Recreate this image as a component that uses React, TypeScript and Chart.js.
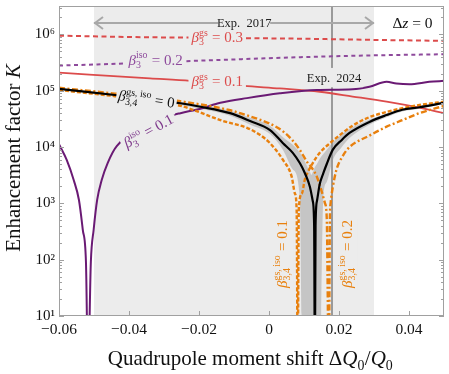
import React, { useEffect, useRef } from 'react';
import { Chart, registerables } from 'chart.js';

Chart.register(...registerables);

// ---------- axes ----------
const X_MIN = -0.06;
const X_MAX = 0.05;
const Y_MIN = 10;
const Y_MAX = 3.2e6;
const X_TICKS = [-0.06, -0.04, -0.02, 0, 0.02, 0.04];
const Y_TICKS = [1e1, 1e2, 1e3, 1e4, 1e5, 1e6];
const Y_TICK_LABELS = ['10\u00B9', '10\u00B2', '10\u00B3', '10\u2074', '10\u2075', '10\u2076'];
const EXP2017_RANGE = [-0.05, 0.03];
const EXP2024_X = 0.018;

// ---------- series ----------
const red03X = [-0.06, -0.034, -0.0225, -0.0066, 0.009, 0.03, 0.05];
const red03Y = [9.5e5, 8.9e5, 8.8e5, 8.6e5, 8.4e5, 8.0e5, 7.7e5];

const purple02X = [-0.06, -0.041, -0.024, -0.01, 0.009, 0.03, 0.05];
const purple02Y = [2.8e5, 3.05e5, 3.35e5, 3.6e5, 3.95e5, 4.25e5, 4.45e5];

const red01X = [-0.06, -0.034, -0.0225, -0.0072, 0.0031, 0.0145, 0.0239, 0.0336, 0.043, 0.05];
const red01Y = [2.1e5, 1.66e5, 1.5e5, 1.22e5, 1.1e5, 9.6e4, 7.9e4, 6.4e4, 5.0e4, 4.0e4];

const purple01X = [-0.06, -0.0578, -0.0558, -0.0543, -0.0532, -0.0523, -0.0517, -0.0509, -0.0501, -0.0491, -0.0478,
  -0.0461, -0.0435, -0.0273, -0.0253, -0.0196, -0.0139, -0.0063, 0.0031, 0.0137, 0.0239, 0.0287, 0.0336, 0.0364,
  0.0401, 0.0458, 0.05];
const purple01Y = [1.12e4, 5.9e3, 2.6e3, 1.15e3, 3.4e2, 91, 1, 91, 3.4e2, 1.15e3, 2.6e3,
  5.2e3, 1.04e4, 3.7e4, 4.0e4, 4.8e4, 6.1e4, 7.4e4, 9.0e4, 1.03e5, 1.06e5, 1.18e5, 1.44e5, 1.35e5,
  1.31e5, 1.44e5, 1.5e5];

const blackX = [-0.06, -0.044, -0.0253, -0.0196, -0.0111, -0.0054, 0.0003, 0.004, 0.0068, 0.0088, 0.0102, 0.0117,
  0.0125, 0.0129, 0.0131, 0.0133, 0.0137, 0.0145, 0.0155, 0.0165, 0.0182, 0.0208, 0.023, 0.0287, 0.0336, 0.0381, 0.043, 0.05];
const blackY = [1.08e5, 8.4e4, 6.0e4, 5.2e4, 4.0e4, 2.9e4, 2.0e4, 1.17e4, 7.9e3, 5.2e3, 3.5e3, 1.96e3,
  1.1e3, 4.0e2, 1, 4.0e2, 1.1e3, 2.2e3, 3.4e3, 5.0e3, 8.9e3, 1.34e4, 1.78e4, 2.8e4, 3.7e4, 4.6e4, 5.1e4, 6.1e4];

const bandX = [-0.06, -0.044, -0.0253, -0.0196, -0.0111, -0.0054, 0.0003, 0.004, 0.0068, 0.0088, 0.0097, 0.0102,
  0.0117, 0.0121, 0.0125, 0.0131, 0.0137, 0.0145, 0.0155, 0.0165, 0.0182, 0.0208, 0.023, 0.0287, 0.0336, 0.0381, 0.043, 0.05];
const bandHiY = [1.12e5, 8.8e4, 6.4e4, 5.6e4, 4.4e4, 3.3e4, 2.4e4, 1.5e4, 1.1e4, 8.0e3, 6.5e3, 5.6e3,
  3.6e3, 3.2e3, 3.6e3, 4.4e3, 5.0e3, 6.2e3, 7.5e3, 9.0e3, 1.2e4, 1.7e4, 2.1e4, 3.1e4, 4.0e4, 4.9e4, 5.5e4, 6.4e4];
const bandLoY = [1.04e5, 8.0e4, 5.6e4, 4.8e4, 3.6e4, 2.5e4, 1.7e4, 8.9e3, 4.0e3, 1.3e3, 1, 1,
  1, 1, 1, 1, 1, 1, 1.2e3, 2.4e3, 5.8e3, 1.0e4, 1.45e4, 2.5e4, 3.4e4, 4.3e4, 4.8e4, 5.8e4];

const orange01X = [-0.06, -0.044, -0.0253, -0.0131, -0.0063, -0.0026, 0.0003, 0.004, 0.0065, 0.0074, 0.0079, 0.0082,
  0.0085, 0.0094, 0.0102, 0.0111, 0.0125, 0.0145, 0.0174, 0.0202, 0.0239, 0.0287, 0.0336, 0.0381, 0.043, 0.05];
const orange01Y = [1.03e5, 8.0e4, 5.4e4, 2.9e4, 2.2e4, 1.65e4, 1.17e4, 5.9e3, 2.95e3, 1.5e3, 7.6e2, 1,
  7.6e2, 1.5e3, 2.6e3, 3.6e3, 5.2e3, 7.9e3, 1.17e4, 1.63e4, 2.4e4, 3.4e4, 4.2e4, 4.9e4, 5.6e4, 6.4e4];

const orange02X = [-0.06, -0.044, -0.0253, -0.0111, -0.0054, 0.0003, 0.004, 0.0068, 0.0088, 0.0111, 0.0122, 0.0137,
  0.0151, 0.016, 0.0165, 0.0171, 0.0174, 0.0176, 0.0182, 0.0193, 0.0211, 0.023, 0.0287, 0.0336, 0.0381, 0.043, 0.05];
const orange02Y = [1.13e5, 8.9e4, 6.5e4, 4.5e4, 3.5e4, 2.6e4, 1.9e4, 1.3e4, 8.9e3, 5.2e3, 4.3e3, 2.95e3,
  1.6e3, 1.0e3, 5.5e2, 1, 5.5e2, 1.0e3, 1.9e3, 4.0e3, 7.0e3, 1.0e4, 1.6e4, 2.3e4, 3.0e4, 4.0e4, 5.4e4];

// ---------- styles ----------
const FAM = '"Liberation Serif", "DejaVu Serif", serif';
const SHADE = '#ececec';
const RED = '#dc4b4b';
const PURPLE_DARK = '#6a1a74';
const PURPLE_LIGHT = '#8e4a9c';
const ORANGE = '#e8800e';
const FRAME = '#a0a0a0';

type Run = { t?: string; it?: boolean; sup?: string; sub?: string };

function drawRich(ctx: CanvasRenderingContext2D, cx: number, cy: number, runs: Run[], size: number,
  color: string, angle = 0, bg: string | null = null, pad = 3) {
  const small = size * 0.66;
  const base = (it?: boolean) => `${it ? 'italic ' : ''}${size}px ${FAM}`;
  const sm = `${small}px ${FAM}`;
  const ws: number[] = [];
  let w = 0;
  for (const r of runs) {
    let ww: number;
    if (r.t !== undefined) {
      ctx.font = base(r.it);
      ww = ctx.measureText(r.t).width;
    } else {
      ctx.font = sm;
      ww = Math.max(ctx.measureText(r.sup || '').width, ctx.measureText(r.sub || '').width) + 0.5;
    }
    ws.push(ww);
    w += ww;
  }
  ctx.save();
  ctx.translate(cx, cy);
  ctx.rotate(angle);
  if (bg) {
    ctx.fillStyle = bg;
    ctx.fillRect(-w / 2 - pad, -size * 0.8, w + 2 * pad, size * 1.55);
  }
  ctx.fillStyle = color;
  ctx.textBaseline = 'alphabetic';
  ctx.textAlign = 'left';
  const by = size * 0.32;
  let x = -w / 2;
  runs.forEach((r, i) => {
    if (r.t !== undefined) {
      ctx.font = base(r.it);
      ctx.fillText(r.t, x, by);
    } else {
      ctx.font = sm;
      if (r.sup) ctx.fillText(r.sup, x, by - size * 0.42);
      if (r.sub) ctx.fillText(r.sub, x, by + size * 0.24);
    }
    x += ws[i];
  });
  ctx.restore();
}

const annotPlugin = {
  id: 'annot',
  beforeDatasetsDraw(chart: any) {
    const { ctx, chartArea: a, scales } = chart;
    const xs = scales.x;
    ctx.save();
    const x1 = xs.getPixelForValue(EXP2017_RANGE[0]);
    const x2 = xs.getPixelForValue(EXP2017_RANGE[1]);
    ctx.fillStyle = SHADE;
    ctx.fillRect(x1, a.top, x2 - x1, a.bottom - a.top);
    const xl = xs.getPixelForValue(EXP2024_X);
    ctx.strokeStyle = '#9a9a9a';
    ctx.lineWidth = 2;
    ctx.beginPath();
    ctx.moveTo(xl, a.top);
    ctx.lineTo(xl, a.bottom);
    ctx.stroke();
    ctx.restore();
  },
  afterDatasetsDraw(chart: any) {
    const { ctx, chartArea: a, scales } = chart;
    const xs = scales.x;
    const ys = scales.y;
    const P = (x: number, y: number) => [xs.getPixelForValue(x), ys.getPixelForValue(y)];
    ctx.save();
    ctx.beginPath();
    ctx.rect(a.left, a.top, a.right - a.left, a.bottom - a.top);
    ctx.clip();

    let p = P(-0.0148, 9.0e5);
    drawRich(ctx, p[0], p[1], [{ t: '\u03B2', it: true }, { sup: 'gs', sub: '3' }, { t: ' = 0.3' }], 15, RED, 0, SHADE);
    p = P(-0.0148, 1.49e5);
    drawRich(ctx, p[0], p[1], [{ t: '\u03B2', it: true }, { sup: 'gs', sub: '3' }, { t: ' = 0.1' }], 15, RED, 0, SHADE);
    p = P(-0.0324, 3.52e5);
    drawRich(ctx, p[0], p[1], [{ t: '\u03B2', it: true }, { sup: 'iso', sub: '3' }, { t: ' = 0.2' }], 15, PURPLE_LIGHT, 0, SHADE);
    p = P(-0.0344, 1.93e4);
    drawRich(ctx, p[0], p[1], [{ t: '\u03B2', it: true }, { sup: 'iso', sub: '3' }, { t: ' = 0.1' }], 15, '#7f3a8c', -0.5, SHADE);
    p = P(-0.035, 7.1e4);
    drawRich(ctx, p[0], p[1], [{ t: '\u03B2', it: true }, { sup: 'gs, iso', sub: '3,4' }, { t: ' = 0' }], 15, '#111', 0.14, SHADE, 2);
    p = P(0.0037, 126);
    drawRich(ctx, p[0], p[1], [{ t: '\u03B2', it: true }, { sup: 'gs, iso', sub: '3,4' }, { t: ' = 0.1' }], 15, ORANGE, -Math.PI / 2, SHADE, 2);
    p = P(0.0222, 126);
    drawRich(ctx, p[0], p[1], [{ t: '\u03B2', it: true }, { sup: 'gs, iso', sub: '3,4' }, { t: ' = 0.2' }], 15, ORANGE, -Math.PI / 2, SHADE, 2);

    // Exp. 2024 label
    p = P(EXP2024_X, 1.69e5);
    drawRich(ctx, p[0] + 2, p[1], [{ t: 'Exp.  2024' }], 12.5, '#222', 0, SHADE, 2);

    // Exp. 2017 arrow
    const x1 = xs.getPixelForValue(EXP2017_RANGE[0]);
    const x2 = xs.getPixelForValue(EXP2017_RANGE[1]);
    const ay = ys.getPixelForValue(1.6e6);
    const tc = xs.getPixelForValue(-0.0071);
    ctx.strokeStyle = '#a8a8a8';
    ctx.lineWidth = 2;
    ctx.beginPath();
    ctx.moveTo(x1, ay); ctx.lineTo(tc - 26, ay);
    ctx.moveTo(tc + 26, ay); ctx.lineTo(x2, ay);
    ctx.moveTo(x1 + 9, ay - 6); ctx.lineTo(x1 + 1, ay); ctx.lineTo(x1 + 9, ay + 6);
    ctx.moveTo(x2 - 9, ay - 6); ctx.lineTo(x2 - 1, ay); ctx.lineTo(x2 - 9, ay + 6);
    ctx.stroke();
    drawRich(ctx, tc, ay, [{ t: 'Exp.  2017' }], 12.5, '#222');

    p = P(0.041, 1.6e6);
    drawRich(ctx, p[0], p[1], [{ t: '\u0394' }, { t: 'z', it: true }, { t: ' = 0' }], 15.5, '#111');
    ctx.restore();

    // frame + ticks
    ctx.save();
    ctx.strokeStyle = FRAME;
    ctx.lineWidth = 1;
    ctx.strokeRect(a.left + 0.5, a.top + 0.5, a.right - a.left - 1, a.bottom - a.top - 1);
    ctx.beginPath();
    for (const v of X_TICKS) {
      const px = Math.round(xs.getPixelForValue(v)) + 0.5;
      ctx.moveTo(px, a.bottom); ctx.lineTo(px, a.bottom - 5);
    }
    for (const d of Y_TICKS) {
      for (let m = 1; m <= 9; m++) {
        const v = d * m;
        if (v > Y_MAX || v < Y_MIN) continue;
        const py = Math.round(ys.getPixelForValue(v)) + 0.5;
        const len = m === 1 ? 5 : 3;
        ctx.moveTo(a.left, py); ctx.lineTo(a.left + len, py);
        ctx.moveTo(a.right, py); ctx.lineTo(a.right - len, py);
      }
    }
    ctx.stroke();
    ctx.restore();

    // axis titles
    drawRich(ctx, (a.left + a.right) / 2 - 1, 358,
      [{ t: 'Quadrupole moment shift \u0394' }, { t: 'Q', it: true }, { sub: '0' }, { t: '/' }, { t: 'Q', it: true }, { sub: '0' }],
      21, '#111');
    drawRich(ctx, 13, 158, [{ t: 'Enhancement factor ' }, { t: 'K', it: true }], 21, '#111', -Math.PI / 2);
  },
};

function line(xsArr: number[], ysArr: number[], color: string, width: number, dash: number[], order: number) {
  return {
    data: xsArr.map((x, i) => ({ x, y: ysArr[i] })),
    borderColor: color,
    borderWidth: width,
    borderDash: dash,
    fill: false,
    pointRadius: 0,
    cubicInterpolationMode: 'monotone' as const,
    clip: 0,
    order,
  };
}

const zeroPad = (s: any) => {
  s.paddingLeft = 0;
  s.paddingRight = 0;
  s.paddingTop = 0;
  s.paddingBottom = 0;
};

export default function App() {
  const ref = useRef<HTMLCanvasElement | null>(null);
  useEffect(() => {
    if (!ref.current) return;
    const chart = new Chart(ref.current, {
      type: 'line',
      data: {
        datasets: [
          line(blackX, blackY, '#000', 2.2, [], 1),
          line(orange01X, orange01Y, ORANGE, 2.4, [4, 2], 2),
          line(orange02X, orange02Y, ORANGE, 2.4, [6, 2.5, 2, 2.5], 2),
          line(purple01X, purple01Y, PURPLE_DARK, 2, [], 3),
          line(red01X, red01Y, RED, 1.8, [], 4),
          line(purple02X, purple02Y, PURPLE_LIGHT, 2, [4, 3.5], 4),
          line(red03X, red03Y, RED, 2, [5, 3.5], 4),
          {
            data: bandX.map((x, i) => ({ x, y: bandHiY[i] })),
            borderColor: 'rgba(0,0,0,0)',
            borderWidth: 0,
            backgroundColor: 'rgba(150,150,150,0.45)',
            fill: '+1',
            pointRadius: 0,
            cubicInterpolationMode: 'monotone',
            clip: 0,
            order: 9,
          },
          {
            data: bandX.map((x, i) => ({ x, y: bandLoY[i] })),
            borderColor: 'rgba(0,0,0,0)',
            borderWidth: 0,
            fill: false,
            pointRadius: 0,
            cubicInterpolationMode: 'monotone',
            clip: 0,
            order: 9,
          },
        ] as any,
      },
      options: {
        animation: false,
        responsive: false,
        maintainAspectRatio: false,
        layout: { padding: { top: 6, right: 5, left: 0, bottom: 0 } },
        plugins: { legend: { display: false }, tooltip: { enabled: false } },
        scales: {
          x: {
            type: 'linear',
            min: X_MIN,
            max: X_MAX,
            grid: { display: false, drawTicks: false },
            border: { display: false },
            afterBuildTicks: (s: any) => { s.ticks = X_TICKS.map((v) => ({ value: v })); },
            afterFit: (s: any) => { s.height = 58; zeroPad(s); },
            ticks: {
              padding: 5,
              autoSkip: false,
              maxRotation: 0,
              color: '#111',
              font: { family: FAM, size: 15.5 },
              callback: (v: any) => {
                const n = Number(v);
                if (Math.abs(n) < 1e-9) return '0';
                return (n < 0 ? '\u2212' : '') + Math.abs(n).toFixed(2);
              },
            },
          },
          y: {
            type: 'logarithmic',
            min: Y_MIN,
            max: Y_MAX,
            grid: { display: false, drawTicks: false },
            border: { display: false },
            afterBuildTicks: (s: any) => { s.ticks = Y_TICKS.map((v) => ({ value: v })); },
            afterFit: (s: any) => { s.width = 59; zeroPad(s); },
            ticks: {
              padding: 4,
              autoSkip: false,
              color: '#111',
              font: { family: FAM, size: 15 },
              callback: (v: any) => {
                const i = Y_TICKS.findIndex((t) => Math.abs(Math.log10(t) - Math.log10(Number(v))) < 1e-6);
                return i >= 0 ? Y_TICK_LABELS[i] : '';
              },
            },
          },
        },
      } as any,
      plugins: [annotPlugin],
    });
    return () => chart.destroy();
  }, []);
  return (
    <div style={{ position: 'absolute', left: 0, top: 0, width: 449, height: 374, background: '#fff' }}>
      <canvas ref={ref} width={449} height={374} style={{ width: 449, height: 374 }} />
    </div>
  );
}
